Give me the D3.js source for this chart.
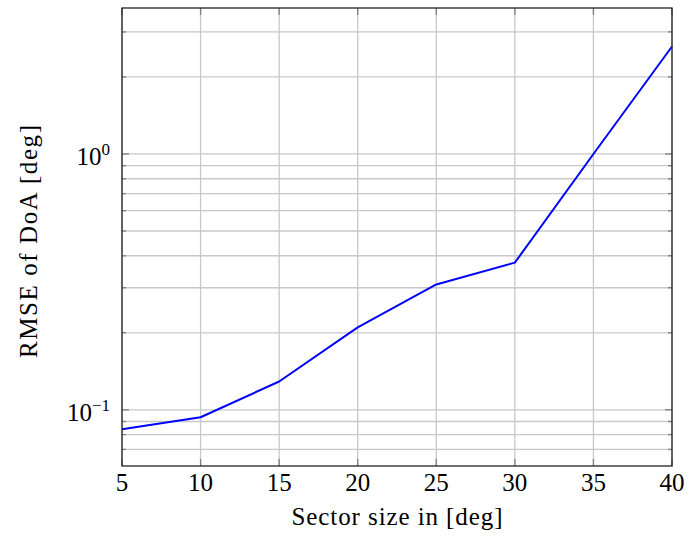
<!DOCTYPE html>
<html>
<head>
<meta charset="utf-8">
<script src="https://cdn.jsdelivr.net/npm/d3@7"></script>
<style>
  body { margin: 0; background: #fff; }
  text { font-family: "Liberation Serif", "Times New Roman", serif; fill: #000; }
</style>
</head>
<body>
<div id="chart"></div>
<script>
const sectorSizes = [5, 10, 15, 20, 25, 30, 35, 40];
const rmseValues = [0.0840, 0.0935, 0.129, 0.210, 0.309, 0.376, 1.0, 2.63];
const xTicks = [5, 10, 15, 20, 25, 30, 35, 40];
const yMajorTicks = [0.1, 1];
const yMinorTicks = [0.07, 0.08, 0.09, 0.2, 0.3, 0.4, 0.5, 0.6, 0.7, 0.8, 0.9, 2, 3];

const W = 699, H = 536;
const margin = { top: 8, right: 27, bottom: 70, left: 122 };
const width = W - margin.left - margin.right;
const height = H - margin.top - margin.bottom;

const svg = d3.select("#chart")
    .append("svg")
    .attr("width", W)
    .attr("height", H)
    .append("g")
    .attr("transform", `translate(${margin.left},${margin.top})`);

const x = d3.scaleLinear().domain([5, 40]).range([0, width]);
const y = d3.scaleLog().domain([0.0603, 3.72]).range([height, 0]);

// grid
const gridColor = "#c8c8c8";
svg.append("g").selectAll("line")
    .data(xTicks)
    .enter().append("line")
    .attr("x1", d => x(d)).attr("x2", d => x(d))
    .attr("y1", 0).attr("y2", height)
    .attr("stroke", gridColor).attr("stroke-width", 1.3);

svg.append("g").selectAll("line")
    .data(yMajorTicks.concat(yMinorTicks))
    .enter().append("line")
    .attr("x1", 0).attr("x2", width)
    .attr("y1", d => y(d)).attr("y2", d => y(d))
    .attr("stroke", gridColor).attr("stroke-width", 1.3);

// tick marks inside, both sides
const ticks = svg.append("g").attr("stroke", "#808080").attr("stroke-width", 1.3);
xTicks.forEach(t => {
    ticks.append("line").attr("x1", x(t)).attr("x2", x(t)).attr("y1", height).attr("y2", height - 7);
    ticks.append("line").attr("x1", x(t)).attr("x2", x(t)).attr("y1", 0).attr("y2", 7);
});
yMajorTicks.forEach(t => {
    ticks.append("line").attr("x1", 0).attr("x2", 7).attr("y1", y(t)).attr("y2", y(t));
    ticks.append("line").attr("x1", width).attr("x2", width - 7).attr("y1", y(t)).attr("y2", y(t));
});
yMinorTicks.forEach(t => {
    ticks.append("line").attr("x1", 0).attr("x2", 4).attr("y1", y(t)).attr("y2", y(t));
    ticks.append("line").attr("x1", width).attr("x2", width - 4).attr("y1", y(t)).attr("y2", y(t));
});

// data line
const line = d3.line()
    .x((d, i) => x(sectorSizes[i]))
    .y(d => y(d));

svg.append("path")
    .datum(rmseValues)
    .attr("fill", "none")
    .attr("stroke", "#0000ff")
    .attr("stroke-width", 2)
    .attr("stroke-linejoin", "round")
    .attr("d", line);

// frame
svg.append("rect")
    .attr("x", 0).attr("y", 0)
    .attr("width", width).attr("height", height)
    .attr("fill", "none")
    .attr("stroke", "#222")
    .attr("stroke-width", 1.3);

// x tick labels
svg.append("g").selectAll("text")
    .data(xTicks)
    .enter().append("text")
    .attr("x", d => x(d))
    .attr("y", height + 25)
    .attr("text-anchor", "middle")
    .style("font-size", "25px")
    .text(d => d);

// y tick labels 10^k
const yLab = svg.append("g").selectAll("text")
    .data(yMajorTicks)
    .enter().append("text")
    .attr("x", -12)
    .attr("y", d => y(d) + 11)
    .attr("text-anchor", "end")
    .style("font-size", "25px");
yLab.append("tspan").text("10");
yLab.append("tspan")
    .attr("dy", -10)
    .style("font-size", "17px")
    .text(d => d === 1 ? "0" : "\u22121");

// axis labels
svg.append("text")
    .attr("x", width / 2)
    .attr("y", height + 59)
    .attr("text-anchor", "middle")
    .attr("textLength", 211)
    .attr("lengthAdjust", "spacing")
    .style("font-size", "25px")
    .text("Sector size in [deg]");

svg.append("text")
    .attr("transform", `translate(${-85},${233.5}) rotate(-90)`)
    .attr("text-anchor", "middle")
    .attr("textLength", 233)
    .attr("lengthAdjust", "spacing")
    .style("font-size", "25px")
    .text("RMSE of DoA [deg]");
</script>
</body>
</html>
